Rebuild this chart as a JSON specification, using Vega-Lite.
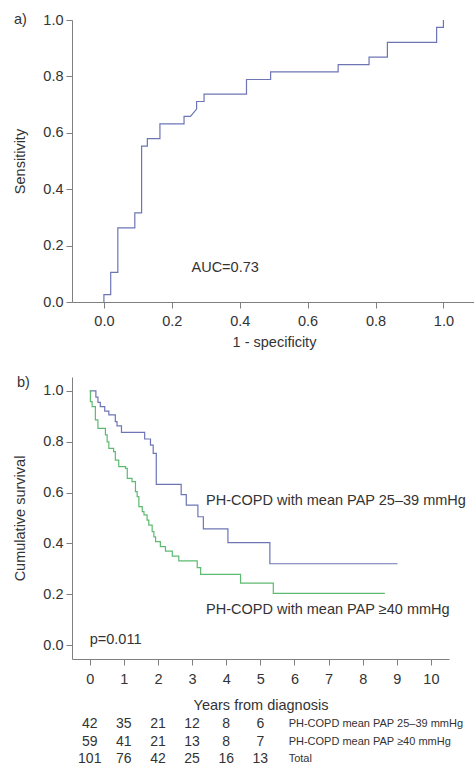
{
  "$schema": "https://vega.github.io/schema/vega-lite/v6.json",
  "background": "white",
  "padding": {"left": 12, "top": 12, "right": 0, "bottom": 0},
  "spacing": 26,
  "datasets": {
    "roc": [
      {"i": 0, "fpr": 0, "sens": 0},
      {"i": 1, "fpr": 0, "sens": 0.026},
      {"i": 2, "fpr": 0.02, "sens": 0.026},
      {"i": 3, "fpr": 0.02, "sens": 0.105},
      {"i": 4, "fpr": 0.041, "sens": 0.105},
      {"i": 5, "fpr": 0.041, "sens": 0.263},
      {"i": 6, "fpr": 0.091, "sens": 0.263},
      {"i": 7, "fpr": 0.091, "sens": 0.316},
      {"i": 8, "fpr": 0.111, "sens": 0.316},
      {"i": 9, "fpr": 0.111, "sens": 0.553},
      {"i": 10, "fpr": 0.128, "sens": 0.553},
      {"i": 11, "fpr": 0.128, "sens": 0.579},
      {"i": 12, "fpr": 0.165, "sens": 0.579},
      {"i": 13, "fpr": 0.165, "sens": 0.632},
      {"i": 14, "fpr": 0.236, "sens": 0.632},
      {"i": 15, "fpr": 0.236, "sens": 0.658},
      {"i": 16, "fpr": 0.255, "sens": 0.658},
      {"i": 17, "fpr": 0.273, "sens": 0.684},
      {"i": 18, "fpr": 0.273, "sens": 0.711},
      {"i": 19, "fpr": 0.295, "sens": 0.711},
      {"i": 20, "fpr": 0.295, "sens": 0.737},
      {"i": 21, "fpr": 0.42, "sens": 0.737},
      {"i": 22, "fpr": 0.42, "sens": 0.789},
      {"i": 23, "fpr": 0.491, "sens": 0.789},
      {"i": 24, "fpr": 0.491, "sens": 0.816},
      {"i": 25, "fpr": 0.69, "sens": 0.816},
      {"i": 26, "fpr": 0.69, "sens": 0.842},
      {"i": 27, "fpr": 0.781, "sens": 0.842},
      {"i": 28, "fpr": 0.781, "sens": 0.868},
      {"i": 29, "fpr": 0.835, "sens": 0.868},
      {"i": 30, "fpr": 0.835, "sens": 0.921},
      {"i": 31, "fpr": 0.98, "sens": 0.921},
      {"i": 32, "fpr": 0.98, "sens": 0.974},
      {"i": 33, "fpr": 1.0, "sens": 0.974},
      {"i": 34, "fpr": 1.0, "sens": 1.0}
    ],
    "km": [
      {"group": "25-39", "years": 0, "surv": 1.0},
      {"group": "25-39", "years": 0.18, "surv": 0.976},
      {"group": "25-39", "years": 0.24, "surv": 0.955},
      {"group": "25-39", "years": 0.31, "surv": 0.938},
      {"group": "25-39", "years": 0.44, "surv": 0.921},
      {"group": "25-39", "years": 0.56, "surv": 0.906},
      {"group": "25-39", "years": 0.75, "surv": 0.879},
      {"group": "25-39", "years": 0.8, "surv": 0.863},
      {"group": "25-39", "years": 0.93, "surv": 0.837},
      {"group": "25-39", "years": 1.61, "surv": 0.811},
      {"group": "25-39", "years": 1.78, "surv": 0.787},
      {"group": "25-39", "years": 1.86, "surv": 0.754},
      {"group": "25-39", "years": 1.95, "surv": 0.632},
      {"group": "25-39", "years": 2.68, "surv": 0.592},
      {"group": "25-39", "years": 2.83, "surv": 0.551},
      {"group": "25-39", "years": 3.17, "surv": 0.505},
      {"group": "25-39", "years": 3.33, "surv": 0.457},
      {"group": "25-39", "years": 4.05, "surv": 0.403},
      {"group": "25-39", "years": 5.28, "surv": 0.32},
      {"group": "25-39", "years": 9.02, "surv": 0.32},
      {"group": ">=40", "years": 0, "surv": 1.0},
      {"group": ">=40", "years": 0.02, "surv": 0.958},
      {"group": ">=40", "years": 0.07, "surv": 0.938},
      {"group": ">=40", "years": 0.165, "surv": 0.886},
      {"group": ">=40", "years": 0.24, "surv": 0.853},
      {"group": ">=40", "years": 0.46, "surv": 0.827},
      {"group": ">=40", "years": 0.51, "surv": 0.8},
      {"group": ">=40", "years": 0.56, "surv": 0.774},
      {"group": ">=40", "years": 0.7, "surv": 0.761},
      {"group": ">=40", "years": 0.75, "surv": 0.728},
      {"group": ">=40", "years": 0.85, "surv": 0.702},
      {"group": ">=40", "years": 1.05, "surv": 0.695},
      {"group": ">=40", "years": 1.1, "surv": 0.656},
      {"group": ">=40", "years": 1.24, "surv": 0.643},
      {"group": ">=40", "years": 1.34, "surv": 0.604},
      {"group": ">=40", "years": 1.39, "surv": 0.584},
      {"group": ">=40", "years": 1.44, "surv": 0.545},
      {"group": ">=40", "years": 1.54, "surv": 0.525},
      {"group": ">=40", "years": 1.59, "surv": 0.512},
      {"group": ">=40", "years": 1.68, "surv": 0.492},
      {"group": ">=40", "years": 1.73, "surv": 0.472},
      {"group": ">=40", "years": 1.83, "surv": 0.446},
      {"group": ">=40", "years": 1.88, "surv": 0.426},
      {"group": ">=40", "years": 1.93, "surv": 0.407},
      {"group": ">=40", "years": 2.07, "surv": 0.387},
      {"group": ">=40", "years": 2.22, "surv": 0.37},
      {"group": ">=40", "years": 2.42, "surv": 0.35},
      {"group": ">=40", "years": 2.61, "surv": 0.331},
      {"group": ">=40", "years": 3.15, "surv": 0.305},
      {"group": ">=40", "years": 3.25, "surv": 0.278},
      {"group": ">=40", "years": 4.42, "surv": 0.244},
      {"group": ">=40", "years": 5.38, "surv": 0.203},
      {"group": ">=40", "years": 8.65, "surv": 0.203}
    ],
    "risk": [
      {"group": "PH-COPD mean PAP 25–39 mmHg", "year": 0, "n": 42},
      {"group": "PH-COPD mean PAP 25–39 mmHg", "year": 1, "n": 35},
      {"group": "PH-COPD mean PAP 25–39 mmHg", "year": 2, "n": 21},
      {"group": "PH-COPD mean PAP 25–39 mmHg", "year": 3, "n": 12},
      {"group": "PH-COPD mean PAP 25–39 mmHg", "year": 4, "n": 8},
      {"group": "PH-COPD mean PAP 25–39 mmHg", "year": 5, "n": 6},
      {"group": "PH-COPD mean PAP ≥40 mmHg", "year": 0, "n": 59},
      {"group": "PH-COPD mean PAP ≥40 mmHg", "year": 1, "n": 41},
      {"group": "PH-COPD mean PAP ≥40 mmHg", "year": 2, "n": 21},
      {"group": "PH-COPD mean PAP ≥40 mmHg", "year": 3, "n": 13},
      {"group": "PH-COPD mean PAP ≥40 mmHg", "year": 4, "n": 8},
      {"group": "PH-COPD mean PAP ≥40 mmHg", "year": 5, "n": 7},
      {"group": "Total", "year": 0, "n": 101},
      {"group": "Total", "year": 1, "n": 76},
      {"group": "Total", "year": 2, "n": 42},
      {"group": "Total", "year": 3, "n": 25},
      {"group": "Total", "year": 4, "n": 16},
      {"group": "Total", "year": 5, "n": 13}
    ],
    "riskgroups": [
      {"group": "PH-COPD mean PAP 25–39 mmHg"},
      {"group": "PH-COPD mean PAP ≥40 mmHg"},
      {"group": "Total"}
    ]
  },
  "vconcat": [
    {
      "width": 404,
      "height": 282,
      "layer": [
        {
          "data": {"name": "roc"},
          "mark": {"type": "line", "color": "#6d75b5", "strokeWidth": 1.2},
          "encoding": {
            "x": {
              "field": "fpr", "type": "quantitative",
              "scale": {"domain": [-0.094, 1.096], "nice": false, "zero": false},
              "axis": {"values": [0, 0.2, 0.4, 0.6, 0.8, 1.0], "format": ".1f", "labelPadding": 6, "titlePadding": 7.5},
              "title": "1 - specificity"
            },
            "y": {
              "field": "sens", "type": "quantitative",
              "scale": {"domain": [0, 1], "nice": false},
              "axis": {"values": [0, 0.2, 0.4, 0.6, 0.8, 1.0], "format": ".1f", "labelPadding": 3, "titlePadding": 15},
              "title": "Sensitivity"
            },
            "order": {"field": "i", "type": "quantitative"}
          }
        },
        {
          "data": {"values": [{}]},
          "mark": {"type": "text", "align": "left", "baseline": "middle"},
          "encoding": {
            "x": {"datum": 0.258},
            "y": {"datum": 0.119},
            "text": {"value": "AUC=0.73"}
          }
        },
        {
          "data": {"values": [{}]},
          "mark": {"type": "text", "align": "left", "baseline": "middle", "dx": -58},
          "encoding": {
            "x": {"datum": -0.094},
            "y": {"datum": 1.0},
            "text": {"value": "a)"}
          }
        }
      ]
    },
    {
      "spacing": 3.5,
      "vconcat": [
        {
          "width": 377,
          "height": 282,
          "layer": [
            {
              "data": {"name": "km"},
              "mark": {"type": "line", "interpolate": "step-after", "strokeWidth": 1.2},
              "encoding": {
                "x": {
                  "field": "years", "type": "quantitative",
                  "scale": {"domain": [-0.52, 10.53], "nice": false, "zero": false},
                  "axis": {"values": [0, 1, 2, 3, 4, 5, 6, 7, 8, 9, 10], "tickCount": 11, "labelOverlap": false, "labelFlush": false, "labelPadding": 7.5, "titlePadding": 12},
                  "title": "Years from diagnosis"
                },
                "y": {
                  "field": "surv", "type": "quantitative",
                  "scale": {"domain": [-0.055, 1.055], "nice": false, "zero": false},
                  "axis": {"values": [0, 0.2, 0.4, 0.6, 0.8, 1.0], "format": ".1f", "labelPadding": 3, "titlePadding": 15},
                  "title": "Cumulative survival"
                },
                "color": {
                  "field": "group", "type": "nominal",
                  "scale": {"domain": ["25-39", ">=40"], "range": ["#6d75b5", "#5dbb70"]},
                  "legend": null
                }
              }
            },
            {
              "data": {"values": [{}]},
              "mark": {"type": "text", "align": "left", "baseline": "middle"},
              "encoding": {
                "x": {"datum": 3.41},
                "y": {"datum": 0.568},
                "text": {"value": "PH-COPD with mean PAP 25–39 mmHg"}
              }
            },
            {
              "data": {"values": [{}]},
              "mark": {"type": "text", "align": "left", "baseline": "middle"},
              "encoding": {
                "x": {"datum": 3.41},
                "y": {"datum": 0.137},
                "text": {"value": "PH-COPD with mean PAP ≥40 mmHg"}
              }
            },
            {
              "data": {"values": [{}]},
              "mark": {"type": "text", "align": "left", "baseline": "middle"},
              "encoding": {
                "x": {"datum": 0},
                "y": {"datum": 0.019},
                "text": {"value": "p=0.011"}
              }
            },
            {
              "data": {"values": [{}]},
              "mark": {"type": "text", "align": "left", "baseline": "middle", "dx": -55},
              "encoding": {
                "x": {"datum": -0.52},
                "y": {"datum": 1.03},
                "text": {"value": "b)"}
              }
            }
          ]
        },
        {
          "width": 377,
          "height": 52,
          "layer": [
            {
              "data": {"name": "risk"},
              "mark": {"type": "text", "align": "center", "baseline": "middle", "fontSize": 14},
              "encoding": {
                "x": {
                  "field": "year", "type": "quantitative",
                  "scale": {"domain": [-0.52, 10.53], "nice": false, "zero": false},
                  "axis": null
                },
                "y": {
                  "field": "group", "type": "nominal",
                  "sort": ["PH-COPD mean PAP 25–39 mmHg", "PH-COPD mean PAP ≥40 mmHg", "Total"],
                  "axis": null
                },
                "text": {"field": "n", "type": "quantitative"}
              }
            },
            {
              "data": {"name": "riskgroups"},
              "mark": {"type": "text", "align": "left", "baseline": "middle", "fontSize": 11},
              "encoding": {
                "x": {"datum": 5.83},
                "y": {
                  "field": "group", "type": "nominal",
                  "sort": ["PH-COPD mean PAP 25–39 mmHg", "PH-COPD mean PAP ≥40 mmHg", "Total"],
                  "axis": null
                },
                "text": {"field": "group"}
              }
            }
          ]
        }
      ],
      "resolve": {"scale": {"x": "independent", "y": "independent"}}
    }
  ],
  "config": {
    "view": {"stroke": null},
    "font": "Liberation Sans",
    "axis": {
      "grid": false,
      "domainColor": "#7f7f7f",
      "tickColor": "#7f7f7f",
      "tickSize": 6,
      "labelFont": "Liberation Sans",
      "labelFontSize": 14.5,
      "labelColor": "#333333",
      "titleFont": "Liberation Sans",
      "titleFontSize": 14.5,
      "titleFontWeight": "normal",
      "titleColor": "#333333"
    },
    "text": {"font": "Liberation Sans", "fontSize": 14.5, "color": "#333333"}
  }
}
